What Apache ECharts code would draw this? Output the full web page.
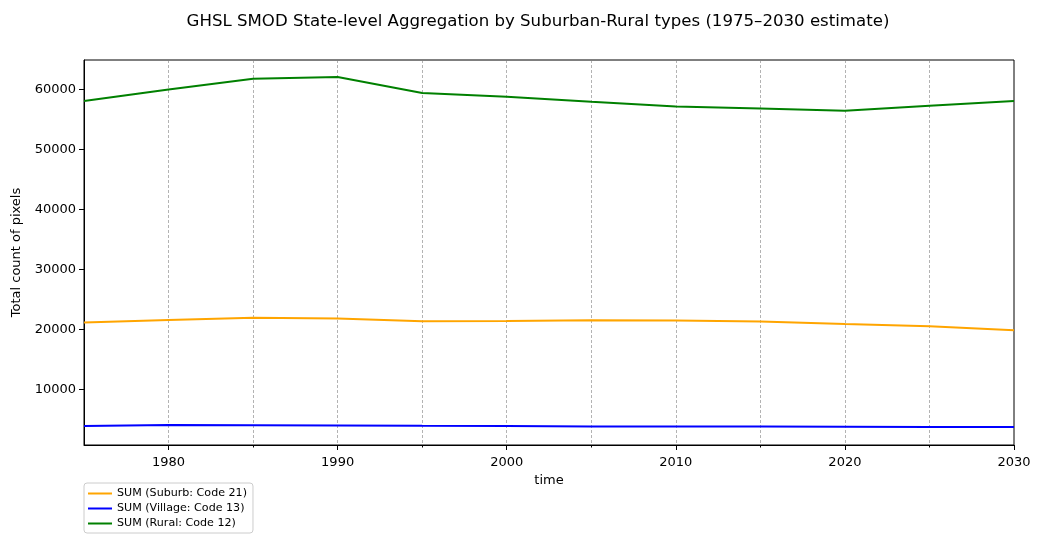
<!DOCTYPE html>
<html>
<head>
<meta charset="utf-8">
<script src="https://cdn.jsdelivr.net/npm/echarts@6/dist/echarts.min.js"></script>
<style>html,body{margin:0;padding:0;background:#fff}#c{width:1041px;height:543px}</style>
</head>
<body>
<div id="c"></div>
<script>
const years = [1975,1980,1985,1990,1995,2000,2005,2010,2015,2020,2025,2030];
const suburb = [21130,21560,21900,21800,21340,21390,21510,21460,21290,20890,20510,19840];
const village = [3880,4050,4000,3950,3900,3880,3800,3800,3770,3750,3720,3700];
const rural = [58050,60000,61770,62050,59380,58770,57930,57160,56830,56430,57260,58050];
const xTickLabels = [1980,1990,2000,2010,2020,2030];
const xMinorTicks = [1985,1995,2005,2015,2025];
const yTickLabels = [10000,20000,30000,40000,50000,60000];

const font = 'DejaVu Sans';
const pair = arr => years.map((y,i)=>[y,arr[i]]);
const gridLine = {show:true,lineStyle:{color:'#808080',type:[3,2],width:0.6}};
const chart = echarts.init(document.getElementById('c'), null, {renderer:'canvas'});
chart.setOption({
  animation:false,
  textStyle:{fontFamily:font},
  title:{text:'GHSL SMOD State-level Aggregation by Suburban-Rural types (1975–2030 estimate)',
    left:533, top:8, textAlign:'center',
    textStyle:{fontFamily:font,fontSize:16.6,fontWeight:'normal',color:'#000'}},
  grid:{left:84,right:27,top:60,bottom:98,show:true,borderColor:'#000',borderWidth:1,backgroundColor:'transparent'},
  legend:{orient:'vertical',left:84,top:483,itemGap:4,itemWidth:24,itemHeight:2,icon:'rect',
    padding:[5,6,4,4],borderColor:'#ccc',borderWidth:1,borderRadius:3,
    textStyle:{fontFamily:font,fontSize:11.1,color:'#000'},
    data:['SUM (Suburb: Code 21)','SUM (Village: Code 13)','SUM (Rural: Code 12)']},
  xAxis:[{type:'value',min:1975,max:2030,interval:5,
    name:'time',nameLocation:'middle',nameGap:29,nameTextStyle:{fontFamily:font,fontSize:13,color:'#000'},
    axisLine:{lineStyle:{color:'#000'}},
    axisTick:{show:true,length:5,lineStyle:{color:'#000'},customValues:xTickLabels},
    axisLabel:{fontFamily:font,fontSize:13,color:'#000',margin:11,customValues:xTickLabels,formatter:v=>String(v)},
    splitLine:gridLine},
   {type:'value',min:1975,max:2030,position:'bottom',
    axisLine:{show:false},axisLabel:{show:false},splitLine:gridLine,
    axisTick:{show:true,length:2.5,lineStyle:{color:'#000'},customValues:xMinorTicks}}],
  yAxis:{type:'value',min:700,max:64900,
    name:'Total count of pixels',nameLocation:'middle',nameGap:61,nameRotate:90,
    nameTextStyle:{fontFamily:font,fontSize:13,color:'#000'},
    axisLine:{show:true,lineStyle:{color:'#000'}},
    axisTick:{show:true,length:5,lineStyle:{color:'#000'},customValues:yTickLabels},
    axisLabel:{fontFamily:font,fontSize:13,color:'#000',margin:8,customValues:yTickLabels,formatter:v=>String(v)},
    splitLine:{show:false}},
  series:[
    {name:'SUM (Suburb: Code 21)',type:'line',data:pair(suburb),showSymbol:false,symbol:'none',color:'#FFA500',lineStyle:{width:2,color:'#FFA500'}},
    {name:'SUM (Village: Code 13)',type:'line',data:pair(village),showSymbol:false,symbol:'none',color:'#0000FF',lineStyle:{width:2,color:'#0000FF'}},
    {name:'SUM (Rural: Code 12)',type:'line',data:pair(rural),showSymbol:false,symbol:'none',color:'#008000',lineStyle:{width:2,color:'#008000'}}
  ]
});
</script>
</body>
</html>
